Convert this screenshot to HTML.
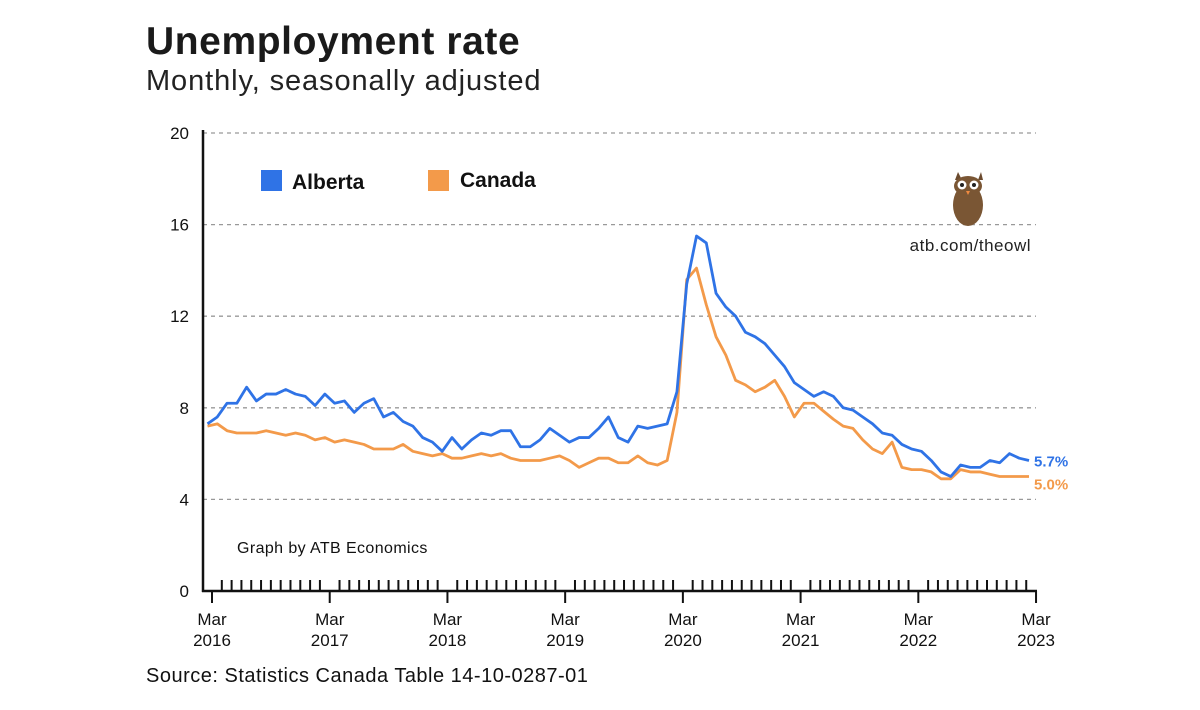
<!DOCTYPE html>
<html><head><meta charset="utf-8"><style>
body{margin:0;background:#fff;width:1200px;height:710px;overflow:hidden;font-family:"Liberation Sans",sans-serif}
svg{display:block}
</style></head><body>
<svg id="chart" width="1200" height="710">
<text x="146" y="54" font-size="39" font-weight="bold" fill="#1a1a1a" letter-spacing="0.6">Unemployment rate</text>
<text x="146" y="90" font-size="29" fill="#222" letter-spacing="0.9">Monthly, seasonally adjusted</text>
<g id="grid"></g>
<g id="axes"></g>
<g id="series"></g>
<rect x="261" y="170" width="21" height="21" fill="#2f73e6"/>
<text x="292" y="189" font-size="21" font-weight="bold" fill="#111">Alberta</text>
<rect x="428" y="170" width="21" height="21" fill="#f39a4a"/>
<text x="460" y="187" font-size="21" font-weight="bold" fill="#111">Canada</text>
<g>
<path d="M955,180 L958,172 L962,180 Z M978,180 L981,172 L983,180 Z" fill="#6b4a2e"/>
<ellipse cx="968" cy="205" rx="15" ry="21" fill="#7a5634"/>
<ellipse cx="968" cy="186" rx="14" ry="10" fill="#7a5634"/>
<circle cx="962" cy="185" r="4.5" fill="#fff"/><circle cx="974" cy="185" r="4.5" fill="#fff"/>
<circle cx="962" cy="185" r="2" fill="#222"/><circle cx="974" cy="185" r="2" fill="#222"/>
<path d="M966,191 L970,191 L968,195 Z" fill="#f08a40"/>
</g>
<text x="1031" y="251" font-size="17" fill="#222" text-anchor="end" letter-spacing="0.5">atb.com/theowl</text>
<text x="237" y="553" font-size="16" fill="#111" letter-spacing="0.4">Graph by ATB Economics</text>
<text x="146" y="682" font-size="20" fill="#111" letter-spacing="0.5">Source: Statistics Canada Table 14-10-0287-01</text>
</svg>
<script>
const alberta=[7.3,7.6,8.2,8.2,8.9,8.3,8.6,8.6,8.8,8.6,8.5,8.1,8.6,8.2,8.3,7.8,8.2,8.4,7.6,7.8,7.4,7.2,6.7,6.5,6.1,6.7,6.2,6.6,6.9,6.8,7.0,7.0,6.3,
6.3,6.6,7.1,6.8,6.5,6.7,6.7,7.1,7.6,6.7,6.5,7.2,7.1,7.2,7.3,
8.7,13.4,15.5,15.2,13.0,12.4,12.0,11.3,11.1,10.8,10.3,
9.8,9.1,8.8,8.5,8.7,8.5,8.0,7.9,7.6,7.3,6.9,6.8,6.4,6.2,6.1,5.7,5.2,5.0,5.5,5.4,5.4,5.7,5.6,6.0,5.8,5.7];
const canada=[7.2,7.3,7.0,6.9,6.9,6.9,7.0,6.9,6.8,6.9,6.8,6.6,6.7,6.5,6.6,6.5,6.4,6.2,6.2,6.2,6.4,6.1,6.0,5.9,6.0,5.8,5.8,5.9,6.0,5.9,6.0,5.8,5.7,
5.7,5.7,5.8,5.9,5.7,5.4,5.6,5.8,5.8,5.6,5.6,5.9,5.6,5.5,5.7,
7.8,13.6,14.1,12.5,11.1,10.3,9.2,9.0,8.7,8.9,9.2,
8.5,7.6,8.2,8.2,7.85,7.5,7.2,7.1,6.6,6.2,6.0,6.5,5.4,5.3,5.3,5.2,4.9,4.9,5.3,5.2,5.2,5.1,5.0,5.0,5.0,5.0];
const yTicks=[0,4,8,12,16,20];
const xLabelYears=["2016","2017","2018","2019","2020","2021","2022","2023"];
const NS="http://www.w3.org/2000/svg";
const X0=212,DX=9.81,Y0=591,DY=22.9,LX0=207.5,LDX=9.78;
function xs(i){return X0+i*DX;}
function xd(i){return LX0+i*LDX;}
function ys(v){return Y0-v*DY;}
function mk(tag,attrs,parent){const e=document.createElementNS(NS,tag);for(const k in attrs)e.setAttribute(k,attrs[k]);parent.appendChild(e);return e;}
const grid=document.getElementById('grid'),axes=document.getElementById('axes'),series=document.getElementById('series');
yTicks.forEach(v=>{
  if(v>0){const l=mk('line',{x1:203,x2:1036,y1:ys(v),y2:ys(v),stroke:'#999','stroke-width':1.3,'stroke-dasharray':'4,4'},grid);
  
  }
  const t=mk('text',{x:189,y:ys(v)+6,'font-size':17,'text-anchor':'end',fill:'#111'},axes);
  t.textContent=v;
  
  
});
const ya=mk('line',{x1:203,x2:203,y1:130,y2:592,stroke:'#111','stroke-width':2.5},axes);


const xa=mk('line',{x1:202,x2:1037,y1:Y0,y2:Y0,stroke:'#111','stroke-width':2.5},axes);


for(let i=0;i<alberta.length;i++){
  const major=i%12===0;
  const tk=mk('line',{x1:xs(i),x2:xs(i),y1:major?Y0:580,y2:major?603:Y0,stroke:'#111','stroke-width':2},axes);
  
  
}
xLabelYears.forEach((yr,k)=>{
  const x=xs(k*12);
  const t1=mk('text',{x:x,y:625,'font-size':17,'text-anchor':'middle',fill:'#111'},axes);t1.textContent='Mar';
  
  
  const t2=mk('text',{x:x,y:646,'font-size':17,'text-anchor':'middle',fill:'#111'},axes);t2.textContent=yr;
  
  
});
function line(data,color,name){
  const p=mk('polyline',{points:data.map((v,i)=>xd(i)+','+ys(v)).join(' '),fill:'none',stroke:color,'stroke-width':2.8,'stroke-linejoin':'round'},series);
  
  
}
line(canada,'#f39a4a','canada-line');
line(alberta,'#2f73e6','alberta-line');
const la=mk('text',{x:1034,y:ys(alberta[alberta.length-1])+6,'font-size':15,'font-weight':'bold',fill:'#2f73e6'},series);
la.textContent=alberta[alberta.length-1].toFixed(1)+'%';


const lc=mk('text',{x:1034,y:ys(canada[canada.length-1])+13,'font-size':15,'font-weight':'bold',fill:'#f39a4a'},series);
lc.textContent=canada[canada.length-1].toFixed(1)+'%';


</script>
</body></html>
